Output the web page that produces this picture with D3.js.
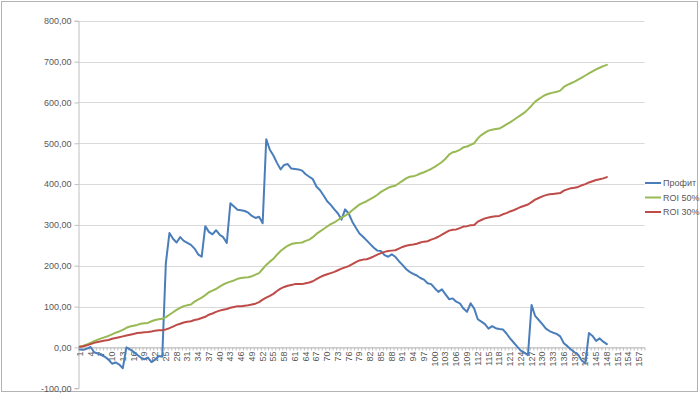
<!DOCTYPE html>
<html><head><meta charset="utf-8">
<script src="https://cdn.jsdelivr.net/npm/d3@7"></script>
<style>html,body{margin:0;padding:0;background:#fff;}svg{display:block;font-family:"Liberation Sans",Arial,sans-serif;}</style>
</head><body>
<svg id="c" width="700" height="395"></svg>
<script>
const categoryCount = 158;
const seriesNames = ["Профит", "ROI 50%", "ROI 30%"];
const seriesColors = ["#4A7EBB", "#98B954", "#BE4B48"];
const yTicks = [-100, 0, 100, 200, 300, 400, 500, 600, 700, 800];

const profit = [-5,-6,-3,1,-12,-15,-19,-23,-30,-40,-37,-42,-51,0,-5,-11,-18,-25,-29,-25,
-36,-30,-21,-23,206,280,266,257,270,261,256,251,242,228,222,297,283,277,287,276,
270,256,353,345,337,336,334,330,322,317,320,304,510,484,470,452,436,447,449,438,
437,436,433,424,418,412,394,385,372,358,349,338,328,313,338,328,308,293,279,271,
262,253,244,237,236,226,222,228,222,211,202,192,185,180,176,170,166,157,155,145,
136,142,130,118,120,112,108,95,87,108,95,69,63,57,46,52,47,45,44,34,
22,12,2,-8,-13,-19,104,77,67,57,46,40,36,33,27,10,3,-5,-12,-18,
-32,-39,35,28,16,22,14,8];

const roi50 = [1.5,4,7,11,15,19,22,25,28,32,36,39,43,48,51,53,55,58,59,60,
64,67,69,70,74,80,86,92,97,101,103,105,112,117,122,128,135,139,143,149,
154,158,161,164,168,170,171,172,174,178,182,192,202,210,217,227,236,243,249,253,
255,256,257,261,264,270,278,284,290,296,302,306,312,318,323,328,336,343,350,354,
358,363,368,374,381,386,391,394,396,402,408,414,418,419,422,426,429,433,437,442,
448,454,462,472,478,480,484,490,492,496,500,512,520,526,531,533,535,536,541,546,
551,557,563,569,575,583,592,602,608,614,619,622,624,626,629,638,643,647,651,656,
661,666,671,676,681,685,689,692];

const roi30 = [1.5,3,5,8,11,13,15,17,18,21,23,25,27,29,31,33,35,36,37,37.5,
39,41,42,42,44,47,51,55,58,61,63,64,67,69,72,75,80,83,87,90,
92,94,97,99,101,101,102,103,105,107,111,117,122,126,131,138,144,148,151,153,
155,155,155,157,159,162,167,172,176,179,182,185,189,193,196,199,204,209,213,215,
216,219,223,227,231,234,236,237,238,242,246,249,251,252,254,257,259,260,264,267,
271,276,281,286,288,289,292,296,297,299,300,308,312,316,318,320,321,322,326,329,
333,336,340,344,347,350,356,362,366,370,373,375,376,377,378,384,387,390,391,393,
397,400,404,407,410,412,414,417];

const categories = d3.range(1, categoryCount + 1);
const xLabels = categories.filter(c => (c - 1) % 3 === 0);

const svg = d3.select("#c");
const L = 78, R = 644.5, T = 20.8, B = 388.2;
const grey = "#595959";

svg.append("rect").attr("x",1.5).attr("y",1.5).attr("width",696).attr("height",390)
  .attr("fill","#fff").attr("stroke","#b3b3b3").attr("stroke-width",1);

const x = d3.scaleBand().domain(categories).range([L, R]).paddingInner(0).paddingOuter(0);
const xb = d3.scaleLinear().domain([0.5, categoryCount + 0.5]).range([L, R]);
const y = d3.scaleLinear().domain([-100, 800]).range([B, T]);

const loc = d3.formatLocale({decimal: ",", thousands: " ", grouping: [3], currency: ["", ""], minus: "-"});
const fmt = loc.format(".2f");

// gridlines
svg.append("g").selectAll("line").data(yTicks.filter(v => v !== -100)).join("line")
  .attr("x1", L).attr("x2", R)
  .attr("y1", d => Math.round(y(d)) + 0.5).attr("y2", d => Math.round(y(d)) + 0.5)
  .attr("stroke", "#d9d9d9").attr("stroke-width", 1);

// y axis
const yAxis = svg.append("g").attr("transform", `translate(${L + 0.5},0)`)
  .call(d3.axisLeft(y).tickValues(yTicks).tickFormat(fmt).tickSize(4).tickPadding(3));
yAxis.select(".domain").attr("stroke", "#bfbfbf");
yAxis.selectAll(".tick line").attr("stroke", "#bfbfbf");
yAxis.selectAll("text").attr("fill", grey).attr("font-size", "9px")
  .attr("font-family", "'Liberation Sans',Arial,sans-serif");

// x axis at zero: boundary ticks
const y0 = Math.round(y(0)) + 0.5;
const xTickAxis = svg.append("g").attr("transform", `translate(0,${y0})`)
  .call(d3.axisBottom(xb).tickValues(d3.range(0.5, categoryCount + 1, 1)).tickFormat("").tickSize(3).tickSizeOuter(0));
xTickAxis.select(".domain").attr("stroke", "#bfbfbf");
xTickAxis.selectAll(".tick line").attr("stroke", "#bfbfbf");

// x labels
const xLabAxis = svg.append("g").attr("transform", `translate(0,${y0})`)
  .call(d3.axisBottom(x).tickValues(xLabels).tickSize(0).tickPadding(0));
xLabAxis.select(".domain").remove();
xLabAxis.selectAll("text")
  .attr("fill", grey).attr("font-size", "9px").attr("font-family", "'Liberation Sans',Arial,sans-serif")
  .attr("text-anchor", "end").attr("dy", "0.33em").attr("y", 0)
  .attr("transform", "translate(0,4) rotate(-90)").attr("x", 0);

// lines
const allSeries = [profit, roi50, roi30];
const line = d3.line().x((d, i) => x(categories[i]) + x.bandwidth() / 2).y(d => y(d));
svg.append("g").selectAll("path").data(allSeries).join("path")
  .attr("d", d => line(d)).attr("fill", "none")
  .attr("stroke", (d, i) => seriesColors[i]).attr("stroke-width", 2)
  .attr("stroke-linejoin", "round").attr("stroke-linecap", "round");

// legend
const leg = svg.append("g");
const legY = [183, 197.5, 212];
seriesNames.forEach((n, i) => {
  leg.append("line").attr("x1", 645).attr("x2", 661).attr("y1", legY[i]).attr("y2", legY[i])
    .attr("stroke", seriesColors[i]).attr("stroke-width", 2);
  leg.append("text").attr("x", 663).attr("y", legY[i]).attr("dy", "0.35em")
    .attr("fill", grey).attr("font-size", "9px").text(n);
});
</script>
</body></html>
